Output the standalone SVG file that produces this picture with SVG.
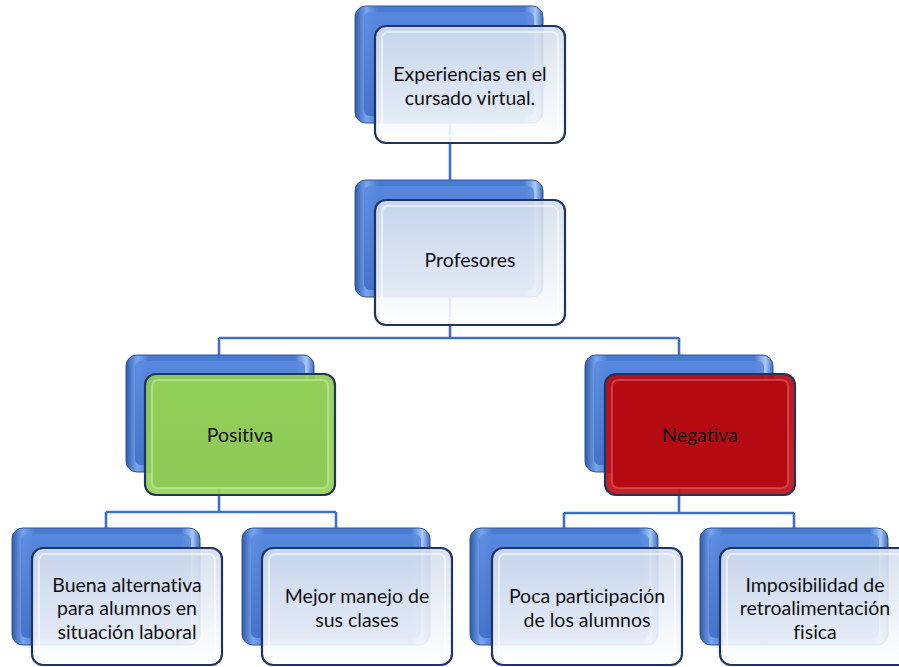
<svg xmlns="http://www.w3.org/2000/svg" width="899" height="667" viewBox="0 0 899 667">
<defs>
<linearGradient id="gBack" x1="0" y1="0" x2="0" y2="1">
<stop offset="0" stop-color="#5a8ae0"/><stop offset="1" stop-color="#3f6cc4"/>
</linearGradient>
<linearGradient id="gBackEdge" x1="0" y1="0" x2="1" y2="0">
<stop offset="0" stop-color="#2f5aa8"/><stop offset="0.06" stop-color="#7aa6f0"/><stop offset="0.12" stop-color="#4a7bd3"/><stop offset="0.9" stop-color="#4a7bd3"/><stop offset="0.96" stop-color="#a9c8f8"/><stop offset="1" stop-color="#3b68bd"/>
</linearGradient>
<linearGradient id="gFront" x1="0" y1="0" x2="0" y2="1">
<stop offset="0" stop-color="#d3deec"/><stop offset="0.6" stop-color="#eef2f8"/><stop offset="1" stop-color="#ffffff"/>
</linearGradient>
<linearGradient id="gGreen" x1="0" y1="0" x2="0" y2="1">
<stop offset="0" stop-color="#8fcc55"/><stop offset="1" stop-color="#96d25a"/>
</linearGradient>
<linearGradient id="gGreenIn" x1="0" y1="0" x2="0" y2="1">
<stop offset="0" stop-color="#92cf58"/><stop offset="1" stop-color="#8ec856"/>
</linearGradient>
<linearGradient id="gRed" x1="0" y1="0" x2="0" y2="1">
<stop offset="0" stop-color="#b8080f"/><stop offset="1" stop-color="#c01018"/>
</linearGradient>
<linearGradient id="gRedIn" x1="0" y1="0" x2="0" y2="1">
<stop offset="0" stop-color="#b60b12"/><stop offset="1" stop-color="#b50a12"/>
</linearGradient>
<g id="back">
<rect x="0" y="0" width="188" height="117" rx="11" fill="url(#gBackEdge)" stroke="#2e5597" stroke-width="1"/>
<rect x="9" y="6" width="170" height="104" rx="6" fill="url(#gBack)" opacity="0.85"/>
</g>
</defs>
<style>
.conn{fill:none;stroke:#3f6fc2;stroke-width:2.6}
.front{stroke:#1e3560;stroke-width:2.2}
.bevel{fill:none;stroke:#ffffff;stroke-opacity:0.55;stroke-width:2}
text{font-family:Lato,"Open Sans","Liberation Sans",sans-serif;font-size:19.5px;fill:#111111;text-anchor:middle;font-variant-ligatures:none;font-feature-settings:"liga" 0}
</style>
<g id="connectors">
<path class="conn" d="M450,118 V182"/>
<path class="conn" d="M450,295 V338 M219,338 H679 M219,338 V357 M679,338 V357"/>
<path class="conn" d="M219,471 V512 M106,512 H336 M106,512 V530 M336,512 V530"/>
<path class="conn" d="M679,471 V513 M564,513 H794 M564,513 V530 M794,513 V530"/>
</g>
<g id="n-experiencias">
<use href="#back" x="355" y="6"/>
<rect class="front" x="375" y="26" width="190" height="117" rx="11" fill="url(#gFront)" fill-opacity="0.9"/>
<rect class="bevel" x="382" y="32" width="176" height="104" rx="6"/>
<text x="470" y="81">Experiencias en el</text>
<text x="470" y="105">cursado virtual.</text>
</g>
<g id="n-profesores">
<use href="#back" x="355" y="180"/>
<rect class="front" x="375" y="200" width="190" height="125" rx="11" fill="url(#gFront)" fill-opacity="0.9"/>
<rect class="bevel" x="382" y="206" width="176" height="112" rx="6"/>
<text x="470" y="267">Profesores</text>
</g>
<g id="n-positiva">
<use href="#back" x="126" y="355"/>
<rect class="front" x="145" y="374" width="190" height="121" rx="11" fill="url(#gGreen)" fill-opacity="0.92"/>
<rect x="152" y="380" width="176" height="108" rx="6" fill="url(#gGreenIn)" stroke="#c8ec9c" stroke-opacity="0.6" stroke-width="2"/>
<text x="240" y="442">Positiva</text>
</g>
<g id="n-negativa">
<use href="#back" x="585" y="355"/>
<rect class="front" x="605" y="374" width="190" height="121" rx="11" fill="url(#gRed)" fill-opacity="0.92"/>
<rect x="612" y="380" width="176" height="108" rx="6" fill="url(#gRedIn)" stroke="#e85a60" stroke-opacity="0.6" stroke-width="2"/>
<text x="700" y="442">Negativa</text>
</g>
<g id="n-buena">
<use href="#back" x="12" y="528"/>
<rect class="front" x="32" y="548" width="190" height="117" rx="11" fill="url(#gFront)" fill-opacity="0.9"/>
<rect class="bevel" x="39" y="554" width="176" height="104" rx="6"/>
<text x="127" y="592">Buena alternativa</text>
<text x="127" y="615">para alumnos en</text>
<text x="127" y="639">situación laboral</text>
</g>
<g id="n-mejor">
<use href="#back" x="242" y="528"/>
<rect class="front" x="262" y="548" width="190" height="117" rx="11" fill="url(#gFront)" fill-opacity="0.9"/>
<rect class="bevel" x="269" y="554" width="176" height="104" rx="6"/>
<text x="357" y="603">Mejor manejo de</text>
<text x="357" y="627">sus clases</text>
</g>
<g id="n-poca">
<use href="#back" x="470" y="528"/>
<rect class="front" x="492" y="548" width="190" height="117" rx="11" fill="url(#gFront)" fill-opacity="0.9"/>
<rect class="bevel" x="499" y="554" width="176" height="104" rx="6"/>
<text x="587" y="603">Poca participación</text>
<text x="587" y="627">de los alumnos</text>
</g>
<g id="n-imposibilidad">
<use href="#back" x="700" y="528"/>
<rect class="front" x="720" y="548" width="190" height="117" rx="11" fill="url(#gFront)" fill-opacity="0.9"/>
<rect class="bevel" x="727" y="554" width="176" height="104" rx="6"/>
<text x="815" y="592">Imposibilidad de</text>
<text x="815" y="615">retroalimentación</text>
<text x="815" y="639">fisica</text>
</g>
</svg>
